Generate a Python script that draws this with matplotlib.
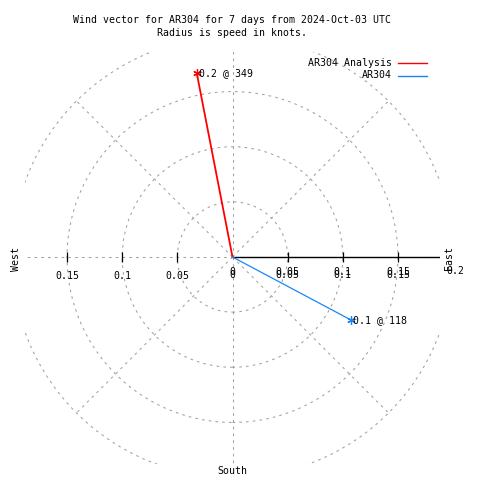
"""
Polar wind vector chart (gnuplot-style) for AR304.
"""

import numpy as np
import matplotlib
matplotlib.use("Agg")
import matplotlib.pyplot as plt
from matplotlib.lines import Line2D
from matplotlib.transforms import offset_copy

# data
series_names = ["AR304 Analysis", "AR304"]
speeds = [0.17, 0.122]          # knots
directions = [349, 118]         # degrees clockwise from north
colors = ["#ff0000", "#1a86f5"]
line_widths = [1.3, 0.9]

ring_radii = [0.05, 0.1, 0.15, 0.2]
spoke_angles = [0, 45, 90, 135, 180, 225, 270, 315]
tick_values = [0.05, 0.1, 0.15]
right_labels = ["0", "0.05", "0.1", "0.15"]
left_labels = ["0.05", "0.1", "0.15"]

title = ("Wind vector for AR304 for 7 days from 2024-Oct-03 UTC\n"
         "Radius is speed in knots.")

FONT = "DejaVu Sans Mono"
FS = 7.1
GRID = "#a0a0a0"
DASH = (0, (2.5, 4))


def px(x, y):
    """pixel (from top-left) -> figure fraction"""
    return x / 480, 1 - y / 480


fig = plt.figure(figsize=(4.8, 4.8), dpi=100)
ax = fig.add_axes([25 / 480, 16 / 480, 415 / 480, 412 / 480])
ax.set_xlim(-0.1881, 0.1881)
ax.set_ylim(-0.1877, 0.1859)
ax.set_axis_off()

# polar grid
rmax = max(ring_radii)
for r in ring_radii:
    ax.add_patch(plt.Circle((0, 0), r, fill=False, ec=GRID, lw=0.75, ls=DASH))
for a in spoke_angles:
    t = np.deg2rad(a)
    ax.plot([0, rmax * np.cos(t)], [0, rmax * np.sin(t)], color=GRID,
            lw=0.75, ls=DASH, marker="")

# radial axis (east) and tick marks
ax.plot([0, rmax], [0, 0], color="black", lw=1.0, marker="")
ticks = np.array(tick_values)
ax.plot(ticks, np.zeros_like(ticks), ls="", marker="|", ms=6.5, mew=0.9,
        color="black", clip_on=False)
ax.plot(-ticks, np.zeros_like(ticks), ls="", marker="|", ms=6.5, mew=0.9,
        color="black", clip_on=False)

# tick labels (right side drawn twice, like the original)
vals = [0.0] + tick_values
for v, lab in zip(vals, right_labels):
    for dy in (-15, -18):
        tr = offset_copy(ax.transData, fig=fig, x=0, y=dy, units="dots")
        ax.text(v, 0, lab, transform=tr, ha="center", va="center",
                family=FONT, fontsize=FS, clip_on=False)
for v, lab in zip(tick_values, left_labels):
    tr = offset_copy(ax.transData, fig=fig, x=0, y=-19, units="dots")
    ax.text(-v, 0, lab, transform=tr, ha="center", va="center",
            family=FONT, fontsize=FS, clip_on=False)
tr = offset_copy(ax.transData, fig=fig, x=2, y=-14, units="dots")
ax.text(rmax, 0, "0.2", transform=tr, ha="center", va="center",
        family=FONT, fontsize=FS, clip_on=False)

# compass labels
fig.text(*px(16, 259), "West", rotation=90, ha="center", va="center",
         family=FONT, fontsize=FS)
fig.text(*px(449, 258), "East", rotation=90, ha="center", va="center",
         family=FONT, fontsize=FS)
fig.text(*px(232, 471), "South", ha="center", va="center",
         family=FONT, fontsize=FS)

# wind vectors
for name, spd, d, c, lw in zip(series_names, speeds, directions, colors,
                               line_widths):
    t = np.deg2rad(d)
    x, y = spd * np.sin(t), spd * np.cos(t)
    ax.plot([0, x], [0, y], color=c, lw=lw, marker="", label=name)
    ax.plot([x], [y], ls="", marker=(6, 2, 0), ms=6, mew=0.9, color=c)
    tr = offset_copy(ax.transData, fig=fig, x=2, y=0, units="dots")
    ax.text(x, y, f"{spd:.1f} @ {d}", transform=tr, ha="left", va="center",
            family=FONT, fontsize=FS, clip_on=False)

# legend, gnuplot style: text right-aligned, sample to the right
for i, (name, c) in enumerate(zip(series_names, colors)):
    yy = 63 + 12.5 * i
    fig.text(*px(392, yy), name, ha="right", va="center",
             family=FONT, fontsize=FS)
    x0, y0 = px(398, yy)
    x1, _ = px(427, yy)
    fig.add_artist(Line2D([x0, x1], [y0, y0], color=c, lw=1.0))

fig.text(*px(232, 26.5), title, ha="center", va="center",
         family=FONT, fontsize=FS, linespacing=1.3)

fig.savefig("out.png", dpi=100)
